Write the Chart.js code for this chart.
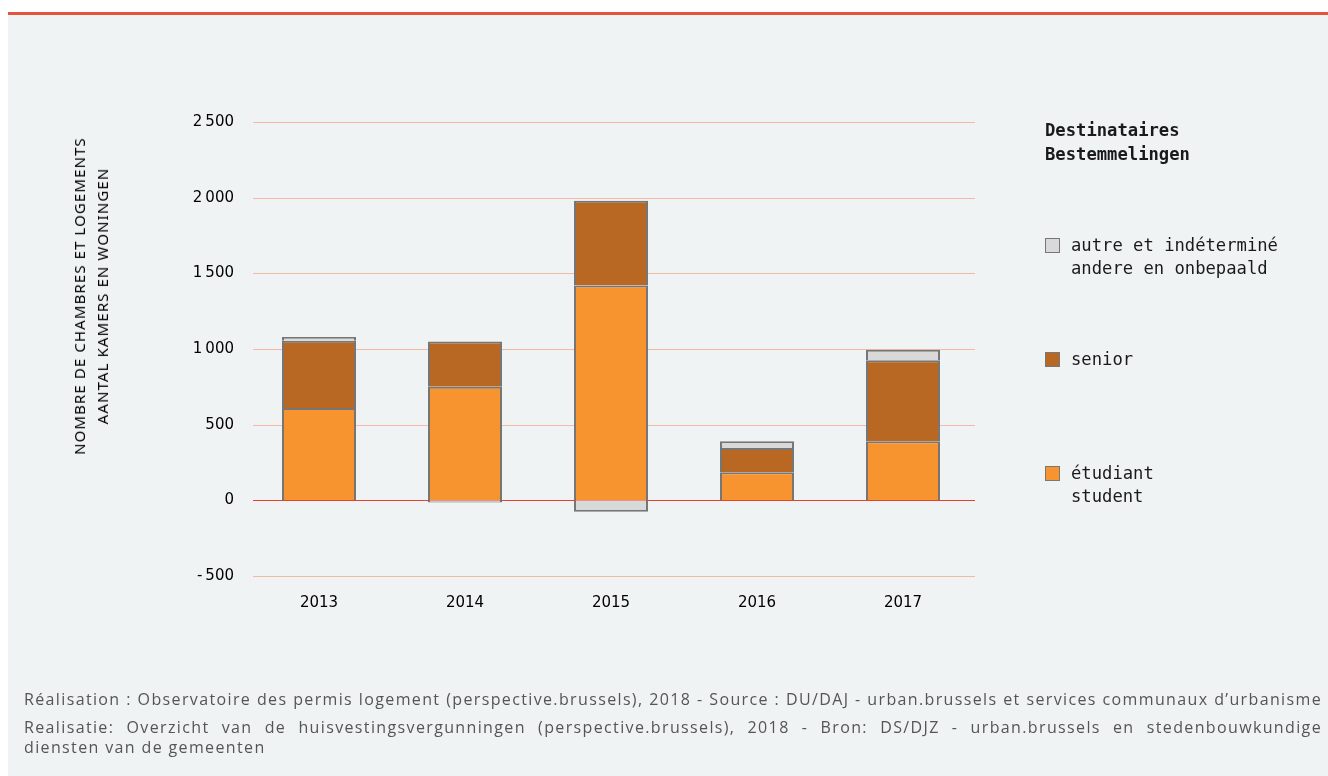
<!DOCTYPE html>
<html><head><meta charset="utf-8">
<script src="https://cdn.jsdelivr.net/npm/chart.js@4.4.1/dist/chart.umd.min.js"></script>
<style>
html,body{margin:0;padding:0;background:#fff;width:1328px;height:776px;overflow:hidden;}
#bg{position:absolute;left:8px;top:15px;width:1320px;height:761px;background:#eff3f4;}
#topline{position:absolute;left:8px;top:12px;width:1320px;height:3px;background:#e5533f;}
#wrap{position:absolute;left:0;top:0;width:1328px;height:776px;}
#ytitle{position:absolute;left:91px;top:296px;transform:translate(-50%,-50%) rotate(-90deg);font-family:"Noto Sans",sans-serif;font-size:15px;line-height:23px;text-align:center;color:#000;white-space:nowrap;letter-spacing:1.1px;}
#legend{position:absolute;left:0;top:0;font-family:"DejaVu Sans Mono",monospace;color:#1a1a1a;font-size:17.2px;}
.ltitle{position:absolute;left:1045px;top:118px;font-weight:bold;line-height:24px;}
.item{position:absolute;left:1045px;line-height:23px;}
.box{position:absolute;left:0;top:4px;width:13px;height:13px;border:1px solid #777;}
.txt{position:absolute;left:26px;top:0;white-space:nowrap;}
#foot{position:absolute;left:24px;top:689px;width:1298px;font-family:"Open Sans",sans-serif;font-size:16px;color:#555;line-height:20px;}
#foot div{text-align:justify;text-align-last:justify;white-space:nowrap;}
#foot div.last{text-align-last:left;}
#meas{position:absolute;left:0;top:-100px;white-space:nowrap;font-family:"Open Sans",sans-serif;font-size:16px;visibility:hidden;}
</style></head><body>
<div id="bg"></div><div id="topline"></div>
<div id="wrap"><canvas id="c" width="1328" height="776"></canvas></div>
<div id="ytitle">NOMBRE DE CHAMBRES ET LOGEMENTS<br>AANTAL KAMERS EN WONINGEN</div>
<div id="legend"></div>
<div id="foot">
<div id="f1" style="margin-bottom:8px">Réalisation : Observatoire des permis logement (perspective.brussels), 2018 - Source : DU/DAJ - urban.brussels et services communaux d’urbanisme</div>
<div>Realisatie: Overzicht van de huisvestingsvergunningen (perspective.brussels), 2018 - Bron: DS/DJZ - urban.brussels en stedenbouwkundige</div>
<div class="last">diensten van de gemeenten</div>
</div>
<span id="meas"></span>
<script>
const years = ["2013","2014","2015","2016","2017"];
const etudiant = [610, 750, 1420, 185, 390];
const senior = [445, 300, 560, 160, 535];
const autre = [25, -15, -75, 45, 70];
const seriesLabels = [["étudiant","student"],["senior"],["autre et indéterminé","andere en onbepaald"]];
const legendTitle = ["Destinataires","Bestemmelingen"];
const yTicks = [-500, 0, 500, 1000, 1500, 2000, 2500];

const colors = ["#f7942f","#b86822","#d9d9d9"];
const border = "#767676";

// fit footer letter-spacing so first line spans the full width naturally
const m = document.getElementById('meas');
const f1text = document.getElementById('f1').textContent;
m.textContent = f1text;
const w = m.getBoundingClientRect().width;
const ls = Math.max(0, (1294 - w) / f1text.length);
document.getElementById('foot').style.letterSpacing = ls.toFixed(3) + 'px';

// legend
const lg = document.getElementById('legend');
const t = document.createElement('div'); t.className='ltitle'; t.innerHTML = legendTitle.join('<br>'); lg.appendChild(t);
const tops = [461.5, 347.5, 233.5];
[0,1,2].forEach(i=>{
  const it=document.createElement('div'); it.className='item'; it.style.top=tops[i]+'px';
  const b=document.createElement('div'); b.className='box'; b.style.background=colors[i]; it.appendChild(b);
  const tx=document.createElement('div'); tx.className='txt'; tx.innerHTML=seriesLabels[i].join('<br>'); it.appendChild(tx);
  lg.appendChild(it);
});

function fmt(v){ const s=String(Math.abs(v)); const r = s.length>3 ? s.slice(0,-3)+'\u2009'+s.slice(-3) : s; return (v<0?'-\u2009':'')+r; }

// grid lines drawn through the y scale, inset slightly from the category band
const gridPlugin = {
  id:'insetGrid',
  beforeDatasetsDraw(chart){
    const {ctx, chartArea, scales:{y}} = chart;
    ctx.save();
    y.ticks.forEach(tk=>{
      const py = Math.round(y.getPixelForValue(tk.value)) + 0.5;
      ctx.strokeStyle = tk.value === 0 ? '#e5412d' : '#f5b8a4';
      ctx.lineWidth = 1;
      ctx.beginPath(); ctx.moveTo(chartArea.left + 7, py); ctx.lineTo(chartArea.right - 1, py); ctx.stroke();
    });
    ctx.restore();
  }
};

new Chart(document.getElementById('c'), {
  type:'bar',
  data:{labels:years, datasets:[
    {label:seriesLabels[0].join(' '), data:etudiant, backgroundColor:colors[0], borderColor:border, borderWidth:2},
    {label:seriesLabels[1].join(' '), data:senior, backgroundColor:colors[1], borderColor:border, borderWidth:2},
    {label:seriesLabels[2].join(' '), data:autre, backgroundColor:colors[2], borderColor:border, borderWidth:2}
  ]},
  plugins:[gridPlugin],
  options:{
    responsive:false, animation:false,
    layout:{padding:{left:150,right:352,top:122,bottom:160}},
    plugins:{legend:{display:false},tooltip:{enabled:false}},
    datasets:{bar:{categoryPercentage:1, barPercentage:0.507}},
    scales:{
      x:{stacked:true, grid:{display:false, drawTicks:false}, border:{display:false},
         ticks:{padding:18, color:'#000', font:{family:'DejaVu Sans', size:15}},
         afterFit(s){s.height=40;}},
      y:{stacked:true, min:-500, max:2500, afterBuildTicks(s){s.ticks=yTicks.map(v=>({value:v}));},
         grid:{display:false, drawTicks:false},
         border:{display:false},
         ticks:{padding:12, color:'#000', font:{family:'DejaVu Sans', size:15}, callback:v=>fmt(v)},
         afterFit(s){s.width=96;}}
    }
  }
});
</script>
</body></html>
